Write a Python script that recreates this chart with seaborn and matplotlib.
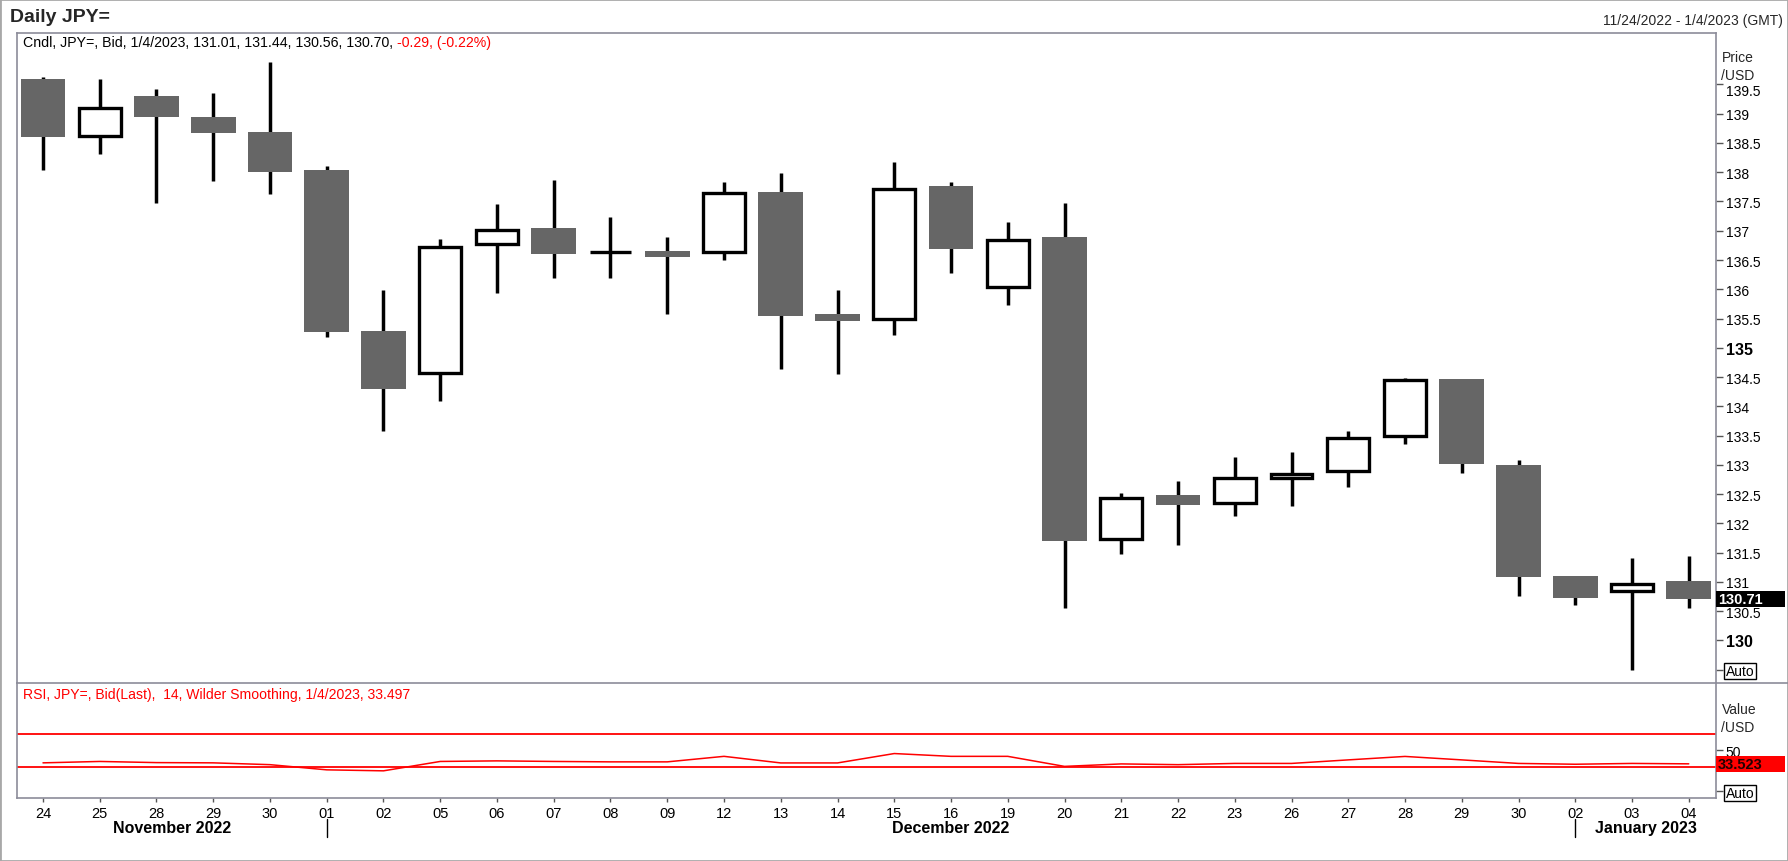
import numpy as np
import pandas as pd
import matplotlib
matplotlib.use('Agg')
import matplotlib.pyplot as plt
import matplotlib.transforms as mtransforms
from matplotlib.patches import Rectangle
from matplotlib.lines import Line2D
import seaborn as sns

# Daily candles, 24 Nov 2022 - 4 Jan 2023
dates = ['24', '25', '28', '29', '30', '01', '02', '05', '06', '07',
         '08', '09', '12', '13', '14', '15', '16', '19', '20', '21',
         '22', '23', '26', '27', '28', '29', '30', '02', '03', '04']
opens = [139.60, 138.62, 139.31, 138.95, 138.68, 138.04, 135.28, 134.57, 136.77, 137.05,
         136.63, 136.66, 136.63, 137.67, 135.57, 135.49, 137.76, 136.04, 136.90, 131.73,
         132.49, 132.34, 132.78, 132.90, 133.49, 134.46, 133.00, 131.10, 130.85, 131.01]
highs = [139.63, 139.60, 139.42, 139.36, 139.89, 138.11, 135.98, 136.86, 137.46, 137.86,
         137.24, 136.90, 137.84, 137.98, 135.99, 138.17, 137.84, 137.15, 137.48, 132.52,
         132.73, 133.14, 133.22, 133.58, 134.49, 134.47, 133.09, 131.10, 131.40, 131.44]
lows = [138.03, 138.32, 137.47, 137.85, 137.63, 135.19, 133.58, 134.09, 135.94, 136.19,
        136.20, 135.58, 136.50, 134.63, 134.55, 135.22, 136.27, 135.73, 130.55, 131.47,
        131.63, 132.12, 132.29, 132.62, 133.35, 132.86, 130.75, 130.60, 129.50, 130.56]
closes = [138.60, 139.09, 138.94, 138.67, 138.01, 135.27, 134.29, 136.72, 137.02, 136.60,
          136.63, 136.55, 137.64, 135.55, 135.45, 137.72, 136.68, 136.85, 131.69, 132.44,
          132.32, 132.77, 132.85, 133.46, 134.45, 133.01, 131.09, 130.72, 130.97, 130.70]
rsi = [34.7, 36.4, 35.0, 34.7, 32.5, 26.2, 25.0, 36.4, 37.1, 36.4,
       35.9, 35.9, 42.6, 34.6, 34.6, 46.0, 42.6, 42.6, 30.4, 33.4,
       32.5, 34.0, 34.0, 38.3, 42.5, 38.3, 34.0, 33.0, 34.0, 33.5]
months = ['November 2022', 'December 2022', 'January 2023']
month_starts = [5, 27]
price_ticks = np.arange(129.5, 139.51, 0.5)

df = pd.DataFrame({'date': dates, 'open': opens, 'high': highs,
                   'low': lows, 'close': closes, 'rsi': rsi})
df['x'] = np.arange(len(df))
up = df[df['close'] >= df['open']]
down = df[df['close'] < df['open']]

sns.set_theme(style='white')
plt.rcParams['font.family'] = ['Liberation Sans', 'DejaVu Sans']

W, H = 1788, 862
fig = plt.figure(figsize=(W / 100, H / 100), dpi=100)
fig.patch.set_facecolor('white')

def fx(px):
    return px / W

def fy(py):
    return 1 - py / H

left, right = 17, 1716
ax = fig.add_axes([fx(left), fy(684), fx(right - left), (684 - 34) / H])
ax2 = fig.add_axes([fx(left), fy(799), fx(right - left), (799 - 684) / H], sharex=ax)

spine_col = '#8c8c99'
xlim = (-0.458, 29.48)

# Candles
ax.vlines(df['x'], df['low'], df['high'], color='black', lw=2.5, zorder=2)
ax.bar(down['x'], down['open'] - down['close'], bottom=down['close'], width=0.79,
       color='#666666', edgecolor='none', zorder=3)
ax.bar(up['x'], up['close'] - up['open'], bottom=up['open'], width=0.735,
       facecolor='white', edgecolor='black', lw=2.4, zorder=3)

ax.set_xlim(*xlim)
ax.set_ylim(129.27, 140.38)
ax.set_facecolor('white')
ax.yaxis.tick_right()
ax.set_yticks(price_ticks)
plabels = ['Auto' if abs(v - 129.5) < 1e-6 else f'{v:g}' for v in price_ticks]
ax.set_yticklabels(plabels)
ax.tick_params(axis='y', direction='out', length=5, width=1, color='#555555',
               labelsize=10, pad=2, labelcolor='black')
ax.tick_params(axis='x', bottom=False, labelbottom=False)
for t, v in zip(ax.get_yticklabels(), price_ticks):
    if abs(v - 130) < 1e-6 or abs(v - 135) < 1e-6:
        t.set_fontweight('bold')
        t.set_fontsize(11.5)
    if abs(v - 139.5) < 1e-6:
        t.set_verticalalignment('top')
    if abs(v - 129.5) < 1e-6:
        t.set_bbox(dict(facecolor='white', edgecolor='black', pad=1.0, lw=1))
ax.grid(False)
for s in ['left', 'top', 'right']:
    ax.spines[s].set_color(spine_col)
    ax.spines[s].set_linewidth(1.2)
ax.spines['bottom'].set_visible(False)

# last price box
tr = mtransforms.blended_transform_factory(ax.transAxes, ax.transData)
ax.add_patch(Rectangle((1.0, closes[-1] + 0.01 - 0.14), 69 / (right - left), 0.28,
                       transform=tr, facecolor='black', edgecolor='none',
                       clip_on=False, zorder=5))
ax.text(1.001, closes[-1] + 0.01, f'{closes[-1] + 0.01:.2f}', transform=tr, ha='left',
        va='center', color='white', fontsize=10.5, fontweight='bold', zorder=6)

# RSI panel
sns.lineplot(x=df['x'], y=df['rsi'], ax=ax2, color='red', lw=1.1)
ax2.axhline(70, color='red', lw=1.3)
ax2.axhline(30, color='red', lw=1.3)
ax2.set_ylim(-8, 131.7)
ax2.set_xlim(*xlim)
ax2.yaxis.tick_right()
ax2.set_yticks([0, 50])
ax2.set_yticklabels(['Auto', '50'])
ax2.tick_params(axis='y', direction='out', length=5, width=1, color='#555555',
                labelsize=10, pad=2, labelcolor='black')
ax2.get_yticklabels()[0].set_bbox(dict(facecolor='white', edgecolor='black', pad=1.0, lw=1))
ax2.set_xticks(df['x'])
ax2.set_xticklabels(df['date'])
ax2.tick_params(axis='x', direction='out', length=3, width=1, color='#555555',
                labelsize=10.5, pad=3, bottom=True, labelcolor='black')
ax2.set_xlabel('')
ax2.set_ylabel('')
ax2.grid(False)
for s in ['left', 'bottom', 'right']:
    ax2.spines[s].set_color(spine_col)
    ax2.spines[s].set_linewidth(1.2)
ax2.spines['top'].set_visible(False)

tr2 = mtransforms.blended_transform_factory(ax2.transAxes, ax2.transData)
ax2.add_patch(Rectangle((1.0, rsi[-1] - 9.7), 69 / (right - left), 19.4,
                        transform=tr2, facecolor='red', edgecolor='none',
                        clip_on=False, zorder=5))
ax2.text(1.001, rsi[-1], '33.523', transform=tr2, ha='left', va='center',
         color='#220000', fontsize=10.5, fontweight='bold', zorder=6)

# month labels and separators
trm = mtransforms.blended_transform_factory(ax2.transData, ax2.transAxes)
bounds = [xlim[0]] + month_starts + [xlim[1]]
for i, m in enumerate(months):
    ax2.text((bounds[i] + bounds[i + 1]) / 2, -0.26, m, transform=trm, ha='center',
             va='center', fontsize=11.5, fontweight='bold', color='black')
for ms in month_starts:
    ax2.add_line(Line2D([ms, ms], [-0.18, -0.34], transform=trm, color='black',
                        lw=1, clip_on=False))

# separator between panels, full width
fig.add_artist(Line2D([fx(left), 1.0], [fy(684), fy(684)], color=spine_col, lw=1.2))

# figure border
fig.add_artist(Rectangle((0, 0), 1, 1, transform=fig.transFigure, fill=False,
                         edgecolor='#a8a8a8', lw=2))

# headers
fig.text(fx(10), fy(17), 'Daily JPY=', fontsize=14, fontweight='bold', va='center', ha='left')
fig.text(fx(1783), fy(21), '11/24/2022 - 1/4/2023 (GMT)', fontsize=10, va='center', ha='right')
fig.text(fx(1722), fy(58), 'Price', fontsize=10, va='center', ha='left')
fig.text(fx(1721), fy(76), '/USD', fontsize=10, va='center', ha='left')
fig.text(fx(1722), fy(710), 'Value', fontsize=10, va='center', ha='left')
fig.text(fx(1721), fy(728), '/USD', fontsize=10, va='center', ha='left')

leg = fig.text(fx(23), fy(43), 'Cndl, JPY=, Bid, 1/4/2023, 131.01, 131.44, 130.56, 130.70, ',
               fontsize=10.2, va='center', ha='left', color='black')
fig.canvas.draw()
bb = leg.get_window_extent(renderer=fig.canvas.get_renderer())
fig.text(bb.x1 / W, fy(43), '-0.29, (-0.22%)', fontsize=10.2, va='center', ha='left', color='red')
fig.text(fx(23), fy(695), 'RSI, JPY=, Bid(Last),  14, Wilder Smoothing, 1/4/2023, 33.497',
         fontsize=10.1, va='center', ha='left', color='red')

fig.savefig('out.png', dpi=100, facecolor='white')
